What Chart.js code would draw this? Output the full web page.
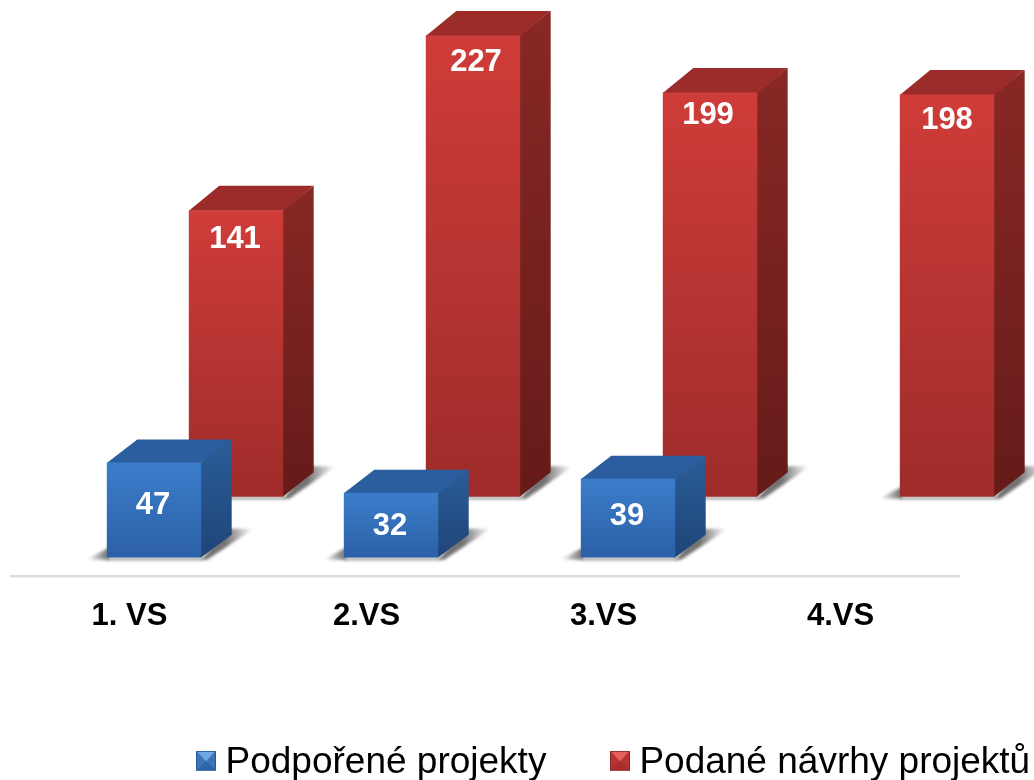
<!DOCTYPE html>
<html lang="cs">
<head>
<meta charset="utf-8">
<style>html,body{margin:0;padding:0;background:#fff;overflow:hidden}canvas{display:block}</style>
<script src="https://cdn.jsdelivr.net/npm/chart.js@4"></script>
</head>
<body>
<canvas id="c" width="1034" height="780"></canvas>
<script>
const categories = ['1. VS', '2.VS', '3.VS', '4.VS'];
const supported = [47, 32, 39, null];
const submitted = [141, 227, 199, 198];
const seriesNames = ['Podpořené projekty', 'Podané návrhy projektů'];
// hand nudges of the value labels relative to the top of each bar
const supportedLabelDy = [43, 34, 38, 0];
const submittedLabelDy = [29, 27, 23, 26];
const submittedLabelDx = [-1, 3, -2, 0];
const supportedLabelDx = [-1, -1, -1, 0];

const FONT = '"Liberation Sans", Arial, sans-serif';
const DX = 30.5;
const palette = [
  {frontTop:'#3B7DCB', frontBot:'#2C60A6', top:'#2A5E9E', sideTop:'#2A5D98', sideBot:'#1F4578', dy:23},
  {frontTop:'#CF3C39', frontBot:'#9E2C2A', top:'#9C2C2A', sideTop:'#882825', sideBot:'#651B19', dy:24.5}
];

function makeIcon(c){
  const s = 20, cv = document.createElement('canvas');
  cv.width = s; cv.height = s + 4;
  const g = cv.getContext('2d');
  const tri = (pts, col) => {g.fillStyle = col; g.beginPath(); pts.forEach((p,i)=> i?g.lineTo(p[0],p[1]):g.moveTo(p[0],p[1])); g.closePath(); g.fill();};
  g.fillStyle = c[0]; g.fillRect(0,0,s,s);
  tri([[1,1],[s-1,1],[s/2,s/2+1]], c[1]);
  tri([[1,1],[s/2,s/2+1],[1,s-1]], c[2]);
  tri([[s-1,1],[s/2,s/2+1],[s-1,s-1]], c[2]);
  tri([[1,s-1],[s/2,s/2+1],[s-1,s-1]], c[3]);
  return cv;
}
const icons = [
  makeIcon(['#245A98','#6FA6E4','#3B74B8','#2F66A8']),
  makeIcon(['#8C2725','#E4605A','#B83432','#A92E2D'])
];

function poly(ctx, pts){
  ctx.beginPath();
  pts.forEach((p,i)=> i?ctx.lineTo(p[0],p[1]):ctx.moveTo(p[0],p[1]));
  ctx.closePath();
}
function frontFill(idx){
  return function(c){
    if (c.type !== 'data' || c.raw == null) return palette[idx].frontTop;
    const sc = c.chart.scales[idx === 0 ? 'y' : 'y2'];
    const y0 = sc ? sc.getPixelForValue(c.raw) : NaN, y1 = sc ? sc.getPixelForValue(0) : NaN;
    if (!Number.isFinite(y0) || !Number.isFinite(y1)) return palette[idx].frontTop;
    const g = c.chart.ctx.createLinearGradient(0, y0, 0, y1);
    g.addColorStop(0, palette[idx].frontTop);
    g.addColorStop(1, palette[idx].frontBot);
    return g;
  };
}

const bar3d = {
  id: 'bar3d',
  afterLayout(chart){
    const l = chart.legend;
    l.left = 132.5; l.right = 1300;
    l.top = 671.8; l.bottom = 780;
  },
  beforeDatasetsDraw(chart){
    const ctx = chart.ctx;
    ctx.save();
    ctx.strokeStyle = '#DDDDDD';
    ctx.lineWidth = 2.5;
    ctx.beginPath();
    ctx.moveTo(10, chart.chartArea.bottom + 18.5);
    ctx.lineTo(960, chart.chartArea.bottom + 18.5);
    ctx.stroke();
    ctx.restore();
  },
  beforeDatasetDraw(chart, args){
    const ctx = chart.ctx, p = palette[args.index], DY = p.dy;
    const values = chart.data.datasets[args.index].data;
    chart.getDatasetMeta(args.index).data.forEach((el, i) => {
      if (values[i] == null) return;
      const xL = el.x - el.width/2, xR = el.x + el.width/2, yT = el.y, yB = el.base;
      ctx.save();
      ctx.filter = 'blur(1.5px)';
      // cast shadow: left tip, thin band under the front, right wedge
      let sg = ctx.createLinearGradient(xL-20, 0, xL+1, 0);
      sg.addColorStop(0, 'rgba(90,90,90,0)');
      sg.addColorStop(1, 'rgba(90,90,90,0.85)');
      ctx.fillStyle = sg;
      poly(ctx, [[xL-21,yB+2],[xL+2,yB+2],[xL+2,yB-10]]);
      ctx.fill();
      ctx.fillStyle = 'rgba(120,120,120,0.75)';
      ctx.fillRect(xL, yB, xR-xL+2, 2.5);
      sg = ctx.createLinearGradient(xR+DX-6, 0, xR+DX+21, 0);
      sg.addColorStop(0, 'rgba(90,90,90,0.85)');
      sg.addColorStop(1, 'rgba(90,90,90,0)');
      ctx.fillStyle = sg;
      poly(ctx, [[xR,yB+2],[xR+DX-4,yB-DY-6],[xR+DX+22,yB-DY-6],[xR+6,yB+2]]);
      ctx.fill();
      ctx.restore();
      ctx.save();
      // side face
      let g = ctx.createLinearGradient(0, yT-DY, 0, yB);
      g.addColorStop(0, p.sideTop); g.addColorStop(1, p.sideBot);
      ctx.fillStyle = g;
      poly(ctx, [[xR-0.5,yT],[xR+DX,yT-DY],[xR+DX,yB-DY],[xR-0.5,yB]]);
      ctx.fill();
      // top face
      ctx.fillStyle = p.top;
      poly(ctx, [[xL,yT+0.5],[xL+DX,yT-DY],[xR+DX,yT-DY],[xR,yT+0.5]]);
      ctx.fill();
      ctx.restore();
    });
  },
  afterDatasetsDraw(chart){
    const ctx = chart.ctx;
    ctx.save();
    ctx.fillStyle = '#FFFFFF';
    ctx.font = 'bold 31px ' + FONT;
    ctx.textAlign = 'center';
    ctx.textBaseline = 'middle';
    [[supportedLabelDx,supportedLabelDy],[submittedLabelDx,submittedLabelDy]].forEach((o,d) => {
      const ds = chart.data.datasets[d];
      chart.getDatasetMeta(d).data.forEach((el,i) => {
        if (ds.data[i] == null) return;
        ctx.fillText(String(ds.data[i]), el.x + o[0][i], el.y + o[1][i]);
      });
    });
    ctx.restore();
  }
};

new Chart(document.getElementById('c'), {
  type: 'bar',
  data: {
    labels: categories,
    datasets: [
      {label: seriesNames[0], data: supported, yAxisID: 'y', backgroundColor: frontFill(0)},
      {label: seriesNames[1], data: submitted, yAxisID: 'y2', backgroundColor: frontFill(1)}
    ]
  },
  options: {
    responsive: false,
    animation: false,
    events: [],
    categoryPercentage: 164/237,
    barPercentage: 94.4/82,
    layout: {padding: {top: 35}},
    scales: {
      x: {
        grid: {display: false},
        border: {display: false},
        afterFit(s){ s.height = 102.7; },
        ticks: {
          color: '#000', padding: 32, labelOffset: -65.5,
          maxRotation: 0, autoSkip: false,
          font: {family: FONT, size: 31, weight: 'bold'}
        }
      },
      y: {
        position: 'left', min: 0, max: 257.6,
        afterFit(s){ s.width = 76.5; },
        grid: {display: false}, border: {display: false}, ticks: {display: false}
      },
      y2: {
        position: 'right', min: -30, max: 227.3,
        afterFit(s){ s.width = 9.5; },
        grid: {display: false}, border: {display: false}, ticks: {display: false}
      }
    },
    plugins: {
      tooltip: {enabled: false},
      legend: {
        position: 'bottom', align: 'start',
        labels: {
          usePointStyle: true, pointStyleWidth: 2, boxHeight: 20,
          padding: 72.5, color: '#000',
          font: {family: FONT, size: 37},
          generateLabels(chart){
            return Chart.defaults.plugins.legend.labels.generateLabels(chart)
              .map((it,i) => Object.assign(it, {pointStyle: icons[i]}));
          }
        }
      }
    }
  },
  plugins: [bar3d]
});
</script>
</body>
</html>
